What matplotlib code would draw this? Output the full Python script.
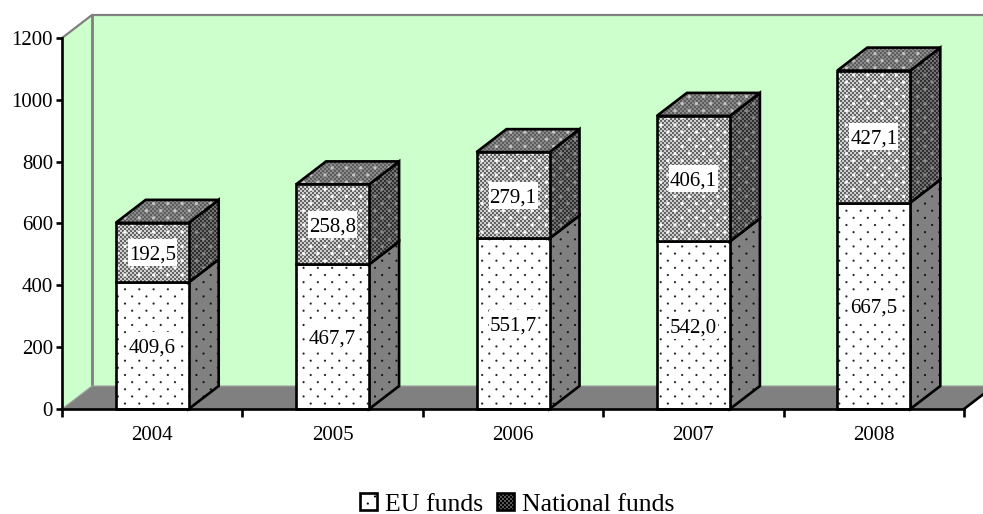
import numpy as np
import matplotlib
matplotlib.use("Agg")
import matplotlib.pyplot as plt
from matplotlib import hatch as mhatch
from matplotlib.path import Path
from matplotlib.patches import Polygon, Rectangle

plt.rcParams['font.family'] = ['Liberation Serif', 'DejaVu Serif']
plt.rcParams['hatch.linewidth'] = 0.05

years = ['2004', '2005', '2006', '2007', '2008']
eu_funds = [409.6, 467.7, 551.7, 542.0, 667.5]
national_funds = [192.5, 258.8, 279.1, 406.1, 427.1]
eu_labels = ['409,6', '467,7', '551,7', '542,0', '667,5']
national_labels = ['192,5', '258,8', '279,1', '406,1', '427,1']
y_ticks = [0, 200, 400, 600, 800, 1000, 1200]


class _Pattern(mhatch.HatchPatternBase):
    char = ''

    def __init__(self, hatch, density):
        self.on = self.char in hatch
        self.centres, self.half, self.sides = self.layout()
        n = self.sides + 2
        self.num_vertices = len(self.centres) * n if self.on else 0

    def set_vertices_and_codes(self, vertices, codes):
        n = self.sides
        a = np.pi / n + np.arange(n) * 2 * np.pi / n
        r = self.half * (np.sqrt(2) if n == 4 else 1)
        shape = np.c_[np.cos(a), np.sin(a)] * r
        for i, c in enumerate(self.centres):
            s = i * (n + 2)
            vertices[s:s + n] = shape + c
            vertices[s + n:s + n + 2] = shape[0] + c
            codes[s] = Path.MOVETO
            codes[s + 1:s + n + 1] = Path.LINETO
            codes[s + n + 1] = Path.CLOSEPOLY


def _stagger(cols):
    rows = cols * 2
    return [((c + 0.25 + 0.5 * (r % 2)) / cols, (r + 0.5) / rows)
            for r in range(rows) for c in range(cols)]


class SmallDots(_Pattern):
    char = '.'

    def layout(self):
        return _stagger(7), 1.1 / 100, 8


class SoftDots(_Pattern):
    char = '*'

    def layout(self):
        return _stagger(7), 1.7 / 100, 8


class FineChecker(_Pattern):
    char = 'o'

    def layout(self):
        cs = [((c + 0.25 + 0.5 * (r % 2)) * 0.04, (r + 0.5) * 0.02)
              for r in range(50) for c in range(25)]
        return cs, 0.01, 4


mhatch._hatch_types = [SmallDots, SoftDots, FineChecker]

W, H = 983, 514
fig = plt.figure(figsize=(W / 100, H / 100), dpi=100, facecolor='white')
ax = fig.add_axes([62 / W, (H - 409) / H, 902 / W, 371 / H])
ax.set_xlim(0, 5)
ax.set_ylim(0, 1200)
ax.patch.set_visible(False)

PX = 902 / 5
PY = 371 / 1200
DX = 30 / PX
DY = 23 / PY
BW = 73 / PX
GREEN = '#CCFFCC'
GREY = '#808080'
BLACK_LW = 1.9
FONT = 15


def poly(pts, z, fc='none', ec='none', lw=0.0, hatch=None):
    p = Polygon(pts, closed=True, facecolor=fc, edgecolor=ec, linewidth=lw,
                hatch=hatch, zorder=z, clip_on=False, joinstyle='miter')
    ax.add_patch(p)
    return p


# walls and floor
poly([(DX, DY), (5 + DX, DY), (5 + DX, 1200 + DY), (DX, 1200 + DY)], 1, fc=GREEN)
poly([(0, 0), (DX, DY), (DX, 1200 + DY), (0, 1200)], 1, fc=GREEN)
poly([(0, 0), (5, 0), (5 + DX, DY), (DX, DY)], 1.2, fc=GREY)
ax.plot([0, DX, 5 + DX], [1200, 1200 + DY, 1200 + DY], color=GREY, lw=1.6,
        clip_on=False, zorder=1.5)
ax.plot([DX, DX], [DY, 1200 + DY], color=GREY, lw=2.0, clip_on=False, zorder=1.5)
ax.plot([0, DX, 5 + DX], [0, DY, DY], color='#A0A0A0', lw=0.8, clip_on=False, zorder=1.5)
ax.plot([5, 5 + DX], [0, DY], color='black', lw=BLACK_LW, clip_on=False, zorder=1.6)


def face(pts, z, base, check=None, dots='black', dot_hatch='.'):
    poly(pts, z, fc=base)
    if check:
        poly(pts, z + 0.01, ec=check, hatch='o')
    poly(pts, z + 0.02, ec=dots, hatch=dot_hatch)
    poly(pts, z + 0.03, ec='black', lw=BLACK_LW)


def label(x, y, s, z):
    ax.add_patch(Rectangle((x - 24.5 / PX, y - 13.5 / PY), 49 / PX, 27 / PY,
                           facecolor='white', edgecolor='none', zorder=z))
    ax.annotate(s, (x, y), xytext=(0, -5), textcoords='offset points', ha='center',
                va='baseline', fontsize=FONT, zorder=z + 0.01)


for i in range(len(years)):
    x0 = i + 0.5 - BW / 2
    x1 = i + 0.5 + BW / 2
    e = eu_funds[i]
    t = e + national_funds[i]
    z = 3 + i
    face([(x1, 0), (x1 + DX, DY), (x1 + DX, e + DY), (x1, e)], z, GREY, dots='#101010')
    face([(x0, 0), (x1, 0), (x1, e), (x0, e)], z + 0.1, 'white', dots='#202020')
    face([(x1, e), (x1 + DX, e + DY), (x1 + DX, t + DY), (x1, t)], z + 0.2, '#2c2c2c',
         check='#707070', dots='#8a8a8a', dot_hatch='*')
    face([(x0, t), (x1, t), (x1 + DX, t + DY), (x0 + DX, t + DY)], z + 0.3, '#5a5a5a',
         check='#8a8a8a', dots='#c4c4c4', dot_hatch='*')
    face([(x0, e), (x1, e), (x1, t), (x0, t)], z + 0.4, '#5c5c5c',
         check='#cfcfcf', dots='#f8f8f8', dot_hatch='*')
    label(i + 0.5, e / 2, eu_labels[i], z + 0.6)
    label(i + 0.5, e + national_funds[i] / 2, national_labels[i], z + 0.6)

# axes
for s in ['top', 'right']:
    ax.spines[s].set_visible(False)
for s in ['left', 'bottom']:
    ax.spines[s].set_linewidth(BLACK_LW)
    ax.spines[s].set_zorder(20)
ax.set_yticks(y_ticks)
ax.set_yticklabels([str(v) for v in y_ticks], fontsize=FONT)
ax.set_xticks(range(6))
ax.set_xticklabels([])
ax.set_xticks([i + 0.5 for i in range(5)], minor=True)
ax.set_xticklabels(years, minor=True, fontsize=FONT)
ax.tick_params(axis='x', which='major', length=5.5, width=BLACK_LW)
ax.tick_params(axis='x', which='minor', length=0, pad=12)
ax.tick_params(axis='y', which='major', length=4.5, width=BLACK_LW, pad=2)

# legend
eu_handle = Rectangle((0, 0), 1, 1, facecolor='white', edgecolor='black', linewidth=1.9, hatch='.')
nat_handle = Rectangle((0, 0), 1, 1, facecolor='#5c5c5c', edgecolor='black', linewidth=1.9,
                       hatch='o')
fig.legend([eu_handle, nat_handle], ['EU funds', 'National funds'], loc='center',
           bbox_to_anchor=(517 / W, (H - 504.2) / H), ncol=2, frameon=False, fontsize=18.5,
           handlelength=0.68, handleheight=0.68, handletextpad=0.31, columnspacing=0.52,
           borderpad=0, borderaxespad=0)

fig.savefig('out.png', dpi=100)
